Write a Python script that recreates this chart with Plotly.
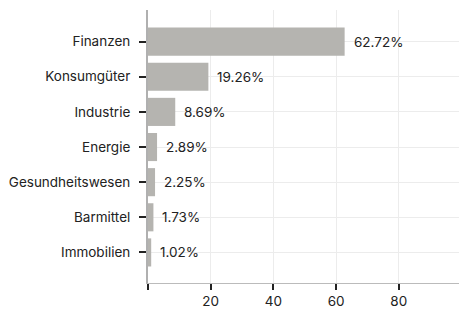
import plotly.graph_objects as go

categories = ["Finanzen", "Konsumgüter", "Industrie", "Energie",
              "Gesundheitswesen", "Barmittel", "Immobilien"]
values = [62.72, 19.26, 8.69, 2.89, 2.25, 1.73, 1.02]
tick_vals = [0, 20, 40, 60, 80]
tick_text = ["", "20", "40", "60", "80"]

FONT = "Inter, Roboto, sans-serif"
FS = 13.5
bar_color = "#b5b4b0"

fig = go.Figure()
fig.add_trace(go.Bar(
    y=categories, x=values, orientation="h",
    marker=dict(color=bar_color, line=dict(width=0)),
    hoverinfo="skip",
))

for c, v in zip(categories, values):
    fig.add_annotation(
        x=v, y=c, xref="x", yref="y",
        text=f"{v:.2f}%", showarrow=False,
        xanchor="left", yanchor="middle", xshift=7,
        font=dict(family=FONT, size=FS, color="#222222"),
    )

# gridline at 100 without tick label
fig.add_shape(type="line", xref="x", yref="paper", x0=100, x1=100, y0=0, y1=1,
              line=dict(color="#ececec", width=1), layer="below")

fig.update_layout(
    width=467, height=315,
    margin=dict(l=140, r=0, t=2, b=40),
    paper_bgcolor="white", plot_bgcolor="white",
    showlegend=False,
    bargap=0.2,
    font=dict(family=FONT, size=FS, color="#222222"),
    xaxis=dict(
        range=[0, 104.3], tickvals=tick_vals, ticktext=tick_text,
        showgrid=True, gridcolor="#ececec", gridwidth=1,
        showline=True, linecolor="#bbbbbb", linewidth=1,
        ticks="outside", ticklen=6, tickcolor="#222222", tickwidth=2,
        zeroline=False, fixedrange=True,
        tickfont=dict(family=FONT, size=FS, color="#222222"),
    ),
    yaxis=dict(
        categoryorder="array", categoryarray=categories[::-1],
        range=[-0.87, 6.9],
        showgrid=True, gridcolor="#ececec", gridwidth=1,
        showline=True, linecolor="#b0b0b0", linewidth=2,
        ticks="outside", ticklen=7, tickcolor="#222222", tickwidth=2,
        ticklabelstandoff=6,
        tickfont=dict(family=FONT, size=FS, color="#222222"),
        automargin=False,
    ),
)

fig.write_html("out.html")
